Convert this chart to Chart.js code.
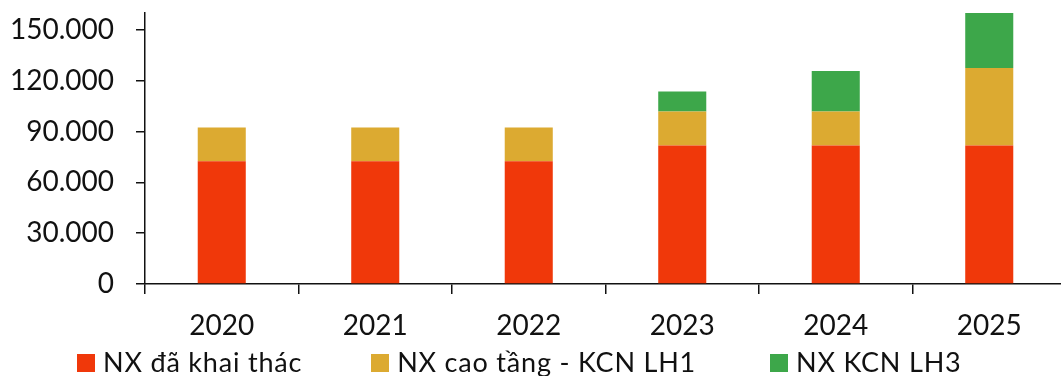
<!DOCTYPE html>
<html>
<head>
<meta charset="utf-8">
<script src="https://cdn.jsdelivr.net/npm/chart.js@4"></script>
<style>
  html, body { margin: 0; padding: 0; background: #fff; overflow: hidden; }
  #wrap { position: relative; width: 1066px; height: 376px; }
  #legend { position: absolute; left: 77px; top: 345px; display: flex; font-family: Lato, sans-serif; font-size: 27px; letter-spacing: 0.8px; color: #111; }
  #legend .item { display: flex; align-items: center; white-space: nowrap; }
  #legend .box { width: 18px; height: 18px; margin-right: 8px; margin-top: 3px; }
</style>
</head>
<body>
<div id="wrap">
  <canvas id="chart" width="1066" height="376"></canvas>
  <div id="legend"></div>
</div>
<script>
const years = ['2020', '2021', '2022', '2023', '2024', '2025'];
const seriesNames = ['NX đã khai thác', 'NX cao tầng - KCN LH1', 'NX KCN LH3'];
const daKhaiThac = [72500, 72500, 72500, 81800, 81800, 81800];
const caoTangLH1 = [19900, 19900, 19900, 20000, 20000, 45800];
const kcnLH3 = [0, 0, 0, 11900, 23900, 32400];
const yTicks = [0, 30000, 60000, 90000, 120000, 150000];
const colors = ['#f0380a', '#dcaa31', '#3da74a'];

const font = { family: 'Lato', size: 28 };

const datasets = [daKhaiThac, caoTangLH1, kcnLH3].map((data, i) => ({
    label: seriesNames[i],
    data: data,
    backgroundColor: colors[i],
    barPercentage: 0.313,
    categoryPercentage: 1
}));

new Chart(document.getElementById('chart'), {
    type: 'bar',
    data: { labels: years, datasets: datasets },
    options: {
        responsive: false,
        animation: false,
        layout: { padding: { top: 13, right: 0, bottom: 0, left: 0 } },
        plugins: {
            legend: { display: false },
            tooltip: { enabled: false }
        },
        scales: {
            x: {
                stacked: true,
                border: { color: '#111', width: 1.5 },
                grid: { drawOnChartArea: false, color: '#111', lineWidth: 1.5, tickLength: 10, offset: true },
                ticks: { color: '#111', font: font, padding: 15 },
                afterFit: s => { s.height = 92; }
            },
            y: {
                stacked: true,
                min: 0,
                max: 160000,
                border: { color: '#111', width: 1.5 },
                grid: { drawOnChartArea: false, color: '#111', lineWidth: 1.5, tickLength: 9 },
                ticks: {
                    color: '#111',
                    font: font,
                    padding: 22,
                    callback: v => v.toString().replace(/\B(?=(\d{3})+(?!\d))/g, '.')
                },
                afterBuildTicks: s => { s.ticks = yTicks.map(v => ({ value: v })); },
                afterFit: s => { s.width = 145; s.paddingTop = 0; s.paddingBottom = 0; }
            }
        }
    }
});

const gaps = [0, 69, 74];
const legend = document.getElementById('legend');
seriesNames.forEach((name, i) => {
    const item = document.createElement('div');
    item.className = 'item';
    item.style.marginLeft = gaps[i] + 'px';
    item.innerHTML = '<span class="box" style="background:' + colors[i] + '"></span><span>' + name + '</span>';
    legend.appendChild(item);
});
</script>
</body>
</html>
